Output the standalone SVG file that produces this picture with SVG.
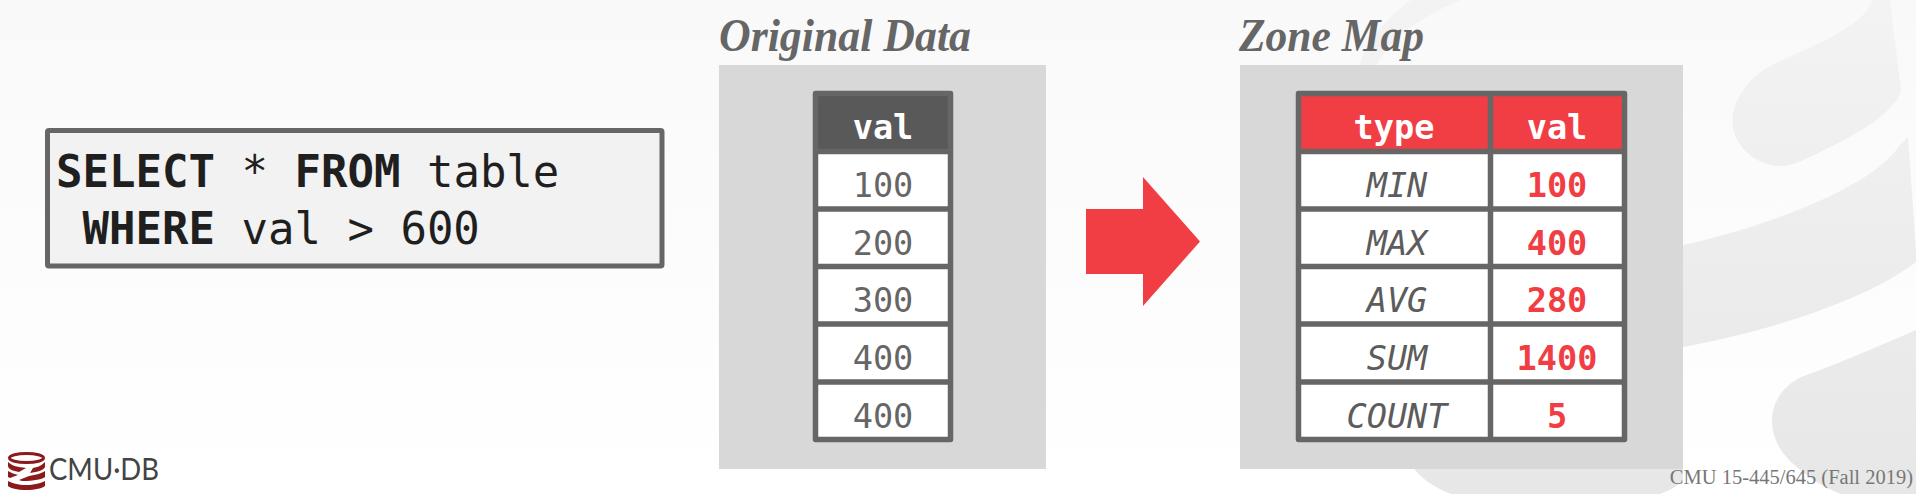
<svg xmlns="http://www.w3.org/2000/svg" width="1916" height="494" viewBox="0 0 1916 494">
<defs>
<linearGradient id="bg" x1="0" y1="0" x2="0" y2="1"><stop offset="0" stop-color="#f9f9f9"/><stop offset="1" stop-color="#ffffff"/></linearGradient>
<linearGradient id="wm" gradientUnits="userSpaceOnUse" x1="0" y1="0" x2="0" y2="494"><stop offset="0" stop-color="#f3f3f3"/><stop offset="1" stop-color="#e7e7e7"/></linearGradient>
</defs>
<style>
.panel{fill:#d8d8d8}
.grid{fill:none;stroke:#666;stroke-width:5.5;stroke-linejoin:round}
.mono{font-family:"DejaVu Sans Mono","Liberation Mono",monospace}
.cell{font-size:33.6px;text-anchor:middle;fill:#666}
.head{font-weight:700;fill:#fff}
.type{font-style:italic;fill:#5c5c5c}
.num{font-weight:700;fill:#f03e44}
.code{font-size:44px;fill:#1f1f1f}
.kw{font-weight:700}
.title{font-family:"Liberation Serif","DejaVu Serif",serif;font-style:italic;font-weight:700;font-size:46px;fill:#666}
.wm{fill:url(#wm)}
.logo{fill:#8c1a1a}
</style>
<rect width="1916" height="494" fill="url(#bg)"/>
<g id="watermark">
<path class="wm" d="M1358 70C1364 45 1385 18 1411 0L1460 0C1420 18 1385 40 1375 70Z"/>
<path class="wm" d="M1872 0C1868 15 1850 30 1800 52C1775 64 1761 68 1748 84C1734 100 1730 118 1734 132C1740 152 1760 166 1781 166C1790 166 1797 163 1810 157C1850 138 1895 115 1901 90L1890 0Z"/>
<path class="wm" d="M1660 250L1683 245C1760 228 1870 190 1900 145L1908 137L1916 250L1916 262C1880 290 1800 325 1683 347L1660 352Z"/>
<path class="wm" d="M1916 330C1870 350 1835 365 1801 377C1780 388 1772 405 1772 420C1772 440 1782 455 1797 467C1812 480 1825 488 1841 494L1916 494Z"/>
<path class="wm" d="M1410 460L1415 470C1425 482 1440 490 1451 494L1660 494C1670 490 1677 487 1683 480L1683 460Z"/>
</g>
<g id="query">
<rect x="47.5" y="130.5" width="614.5" height="135.5" rx="1.5" fill="#f2f2f2" stroke="#666" stroke-width="5"/>
<text class="mono code" x="56" y="187"><tspan class="kw">SELECT</tspan> * <tspan class="kw">FROM</tspan> table</text>
<text class="mono code" x="82.5" y="244"><tspan class="kw">WHERE</tspan> val &gt; 600</text>
</g>
<g id="original-data">
<text class="title" x="719" y="51" textLength="252" lengthAdjust="spacingAndGlyphs">Original Data</text>
<rect class="panel" x="719" y="65" width="327" height="404"/>
<rect x="815.5" y="93.5" width="135" height="346" fill="#fff"/>
<rect x="815.5" y="93.5" width="135" height="57.6" fill="#595959"/>
<path class="grid" d="M815.5 93.5H950.5V439.5H815.5ZM815.5 151.5H950.5M815.5 209H950.5M815.5 266.5H950.5M815.5 324H950.5M815.5 382H950.5"/>
<g class="mono cell">
<text class="head" x="883" y="139">val</text>
<text x="883" y="197">100</text>
<text x="883" y="255">200</text>
<text x="883" y="312">300</text>
<text x="883" y="370">400</text>
<text x="883" y="428">400</text>
</g>
</g>
<g id="connectors">
<path d="M1086 209H1143V177L1200 241.500L1143 306V274H1086Z" fill="#f03e44"/>
</g>
<g id="zone-map">
<text class="title" x="1239" y="51" textLength="185" lengthAdjust="spacingAndGlyphs">Zone Map</text>
<rect class="panel" x="1240" y="65" width="443" height="404"/>
<rect x="1298.500" y="93.500" width="326" height="346" fill="#fff"/>
<rect x="1298.500" y="93.500" width="326" height="57.600" fill="#f03e44"/>
<path class="grid" d="M1298.500 93.500H1624.500V439.500H1298.500ZM1298.500 151.500H1624.500M1298.500 209H1624.500M1298.500 266.500H1624.500M1298.500 324H1624.500M1298.500 382H1624.500M1490.500 93.500V439.500"/>
<g class="mono cell">
<text class="head" x="1394" y="139">type</text>
<text class="head" x="1557" y="139">val</text>
<text class="type" x="1397" y="197">MIN</text>
<text class="type" x="1397" y="255">MAX</text>
<text class="type" x="1397" y="312">AVG</text>
<text class="type" x="1397" y="370">SUM</text>
<text class="type" x="1397" y="428">COUNT</text>
<text class="num" x="1557" y="197">100</text>
<text class="num" x="1557" y="255">400</text>
<text class="num" x="1557" y="312">280</text>
<text class="num" x="1557" y="370">1400</text>
<text class="num" x="1557" y="428">5</text>
</g>
</g>
<g id="footer">
<text x="1913" y="484" text-anchor="end" font-family="'Liberation Serif',serif" font-size="20.500" fill="#777">CMU 15-445/645 (Fall 2019)</text>
</g>
<g id="logo">
<ellipse cx="26.500" cy="458" rx="17" ry="4.500" fill="none" stroke="#8c1a1a" stroke-width="3"/>
<path class="logo" d="M8 462C12 466 18 467 26 468L19 472C13 471 8 469 8 466ZM45 462V467C44 470 38 472 30 473L33 468C39 467 42 465 45 462Z"/>
<path class="logo" d="M8 471C11 473 15 474 18 475L10 478L8 477ZM45 471V477C43 479 34 481 22 481L19 480L29 476C36 475 42 473 45 471Z"/>
<path class="logo" d="M8 481C12 483 18 485 26 485C34 485 41 483 45 481V486C43 488 35 490 26 490C17 490 10 488 8 486Z"/>
<text x="49" y="480" font-family="'Lato','Noto Sans',sans-serif" font-size="30" fill="#444" textLength="110" lengthAdjust="spacingAndGlyphs">CMU·DB</text>
</g>
</svg>
